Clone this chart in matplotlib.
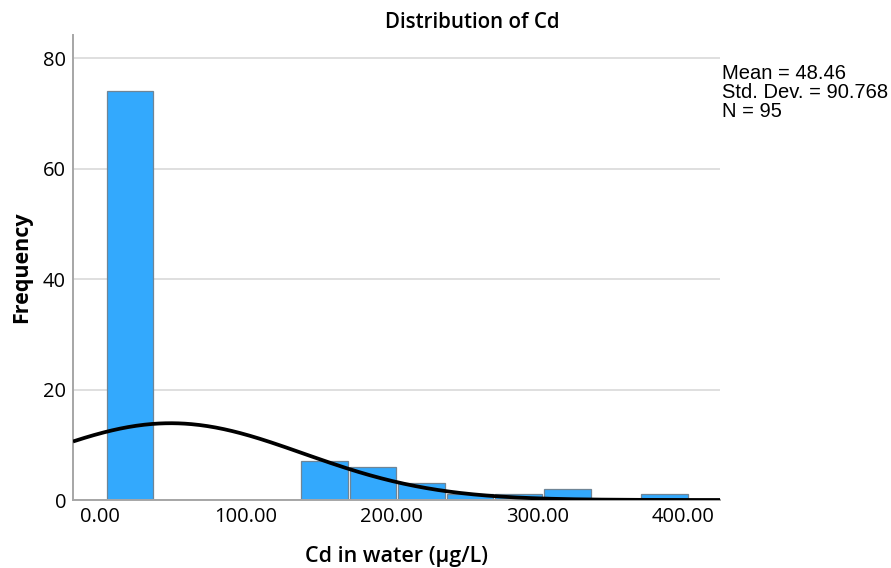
import numpy as np
import matplotlib
matplotlib.use("Agg")
import matplotlib.pyplot as plt

# Data
bin_start = 4.6
bin_width = 33.3
counts = [74, 0, 0, 0, 7, 6, 3, 1, 1, 2, 0, 1]
mean_val = 48.46
std_val = 90.768
n_val = 95
x_ticks = [0, 100, 200, 300, 400]
y_ticks = [0, 20, 40, 60, 80]

fig = plt.figure(figsize=(8.91, 5.68), dpi=100)
ax = fig.add_axes([73/891, 68/568, (720-73)/891, (500-35)/568])

lefts = bin_start + bin_width * np.arange(len(counts))
ax.bar(lefts, counts, width=bin_width*0.96, align='edge',
       color='#33A9FD', edgecolor='#6F8596', linewidth=0.9, zorder=2)

xlim = (-18.5, 425)
xs = np.linspace(xlim[0], xlim[1], 400)
pdf = n_val * bin_width / (std_val * np.sqrt(2*np.pi)) * np.exp(-0.5*((xs-mean_val)/std_val)**2)
ax.plot(xs, pdf, color='black', linewidth=2.7, zorder=3, solid_capstyle='butt')

ax.set_xlim(*xlim)
ax.set_ylim(0, 84.2)
ax.set_xticks(x_ticks)
ax.set_xticklabels([f"{v:.2f}" for v in x_ticks])
ax.set_yticks(y_ticks)
ax.tick_params(axis='both', length=0, labelsize=14.5, pad=5)
for lab in ax.get_xticklabels() + ax.get_yticklabels():
    lab.set_fontfamily('Open Sans')
ax.yaxis.grid(True, color='#D9D9D9', linewidth=1.2, zorder=0)
ax.set_axisbelow(True)
for s in ['top', 'right']:
    ax.spines[s].set_visible(False)
for s in ['left', 'bottom']:
    ax.spines[s].set_color('#A6A6A6')
    ax.spines[s].set_linewidth(1.4)

ax.set_ylabel('Frequency', fontsize=15.5, fontweight='bold', family='Open Sans', labelpad=8)
ax.set_xlabel('Cd in water (μg/L)', fontsize=15.5, fontweight='semibold', family='Open Sans', labelpad=14)
fig.text(472/891, 1 - 22/568, 'Distribution of Cd', ha='center', va='center',
         fontsize=14.8, fontweight='semibold', family='Open Sans')

fig.text(722/891, 1 - 64/568,
         f"Mean = {mean_val:.2f}\nStd. Dev. = {std_val:.3f}\nN = {n_val}",
         ha='left', va='top', fontsize=14.5, family='Liberation Sans', linespacing=1.0)

fig.savefig('out.png', dpi=100)
